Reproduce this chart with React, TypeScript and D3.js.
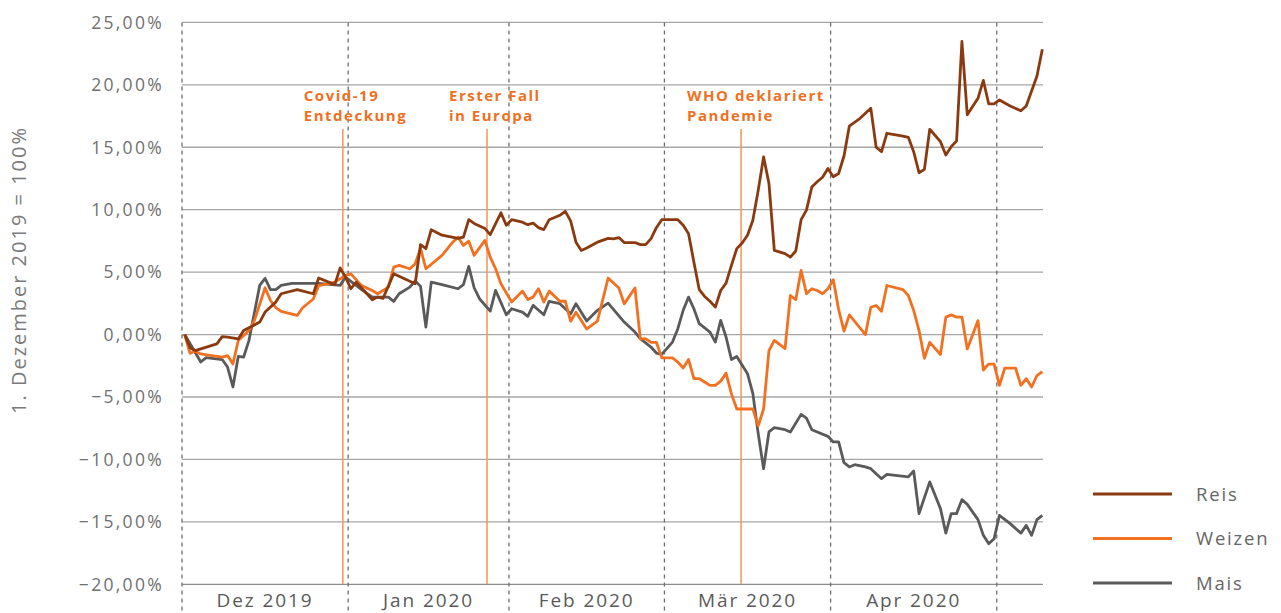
import React from "react";
import * as d3 from "d3";

// ---------- data ----------
// x = trading-day index (category axis), value = change vs. 1 Dec 2019 in %
const monthLabels = ["Dez 2019", "Jan 2020", "Feb 2020", "Mär 2020", "Apr 2020"];
const monthStarts = [0, 31, 61, 90, 121, 152];
const yTicks = [25, 20, 15, 10, 5, 0, -5, -10, -15, -20];

const reis: [number, number][] = [
  [0, 0], [1, -1.06], [2, -1.28], [3, -1.15], [6, -0.75], [7, -0.16], [8, -0.21], [10, -0.35], [11, 0.32],
  [14, 1.0], [15, 1.8], [17, 2.6], [18, 3.27], [21, 3.6], [24, 3.27], [25, 4.53], [28, 4.0], [29, 5.34],
  [30, 4.6], [31, 3.67], [32, 4.2], [35, 2.79], [36, 3.0], [37, 2.9], [39, 4.87], [41, 4.47], [43, 4.07],
  [44, 7.2], [45, 6.88], [46, 8.4], [48, 7.96], [51, 7.7], [52, 7.8], [53, 9.2], [54, 8.9], [56, 8.5],
  [57, 8.0], [59, 9.75], [60, 8.76], [61, 9.2], [63, 9.0], [64, 8.8], [65, 8.93], [66, 8.56], [67, 8.4],
  [68, 9.2], [70, 9.55], [71, 9.87], [72, 9.1], [73, 7.4], [74, 6.74], [75, 6.93], [77, 7.4], [79, 7.7],
  [80, 7.66], [81, 7.77], [82, 7.37], [84, 7.37], [85, 7.2], [86, 7.2], [87, 7.68], [88, 8.56], [89, 9.2],
  [92, 9.2], [93, 8.76], [94, 8.08], [95, 5.8], [96, 3.59], [97, 3.05], [98, 2.67], [99, 2.2], [100, 3.53],
  [101, 4.12], [102, 5.54], [103, 6.88], [104, 7.33], [105, 7.96], [106, 9.15], [107, 11.56], [108, 14.23],
  [109, 12.1], [110, 6.74], [112, 6.48], [113, 6.2], [114, 6.69], [115, 9.2], [116, 9.97], [117, 11.82],
  [118, 12.24], [119, 12.6], [120, 13.3], [121, 12.64], [122, 12.9], [123, 14.3], [124, 16.7], [126, 17.32],
  [128, 18.13], [129, 15.0], [130, 14.65], [131, 16.12], [134, 15.9], [135, 15.8], [136, 14.65], [137, 12.96],
  [138, 13.23], [139, 16.44], [141, 15.45], [142, 14.38], [143, 15.05], [144, 15.5], [145, 23.47], [146, 17.6],
  [148, 18.93], [149, 20.35], [150, 18.47], [151, 18.47], [152, 18.79], [154, 18.3], [156, 17.92], [157, 18.3],
  [159, 20.7], [160, 22.85],
];

const weizen: [number, number][] = [
  [0, 0], [1, -1.5], [2, -1.34], [3, -1.55], [5, -1.68], [7, -1.8], [8, -1.68], [9, -2.35], [10, -0.48],
  [12, 0.32], [13, 1.12], [15, 3.75], [16, 2.73], [17, 2.15], [18, 1.85], [21, 1.53], [22, 2.15], [24, 2.85],
  [25, 3.92], [28, 4.2], [30, 4.73], [31, 4.86], [33, 3.92], [35, 3.53], [36, 3.27], [38, 3.8], [39, 5.4],
  [40, 5.54], [42, 5.27], [43, 5.67], [44, 6.9], [45, 5.27], [48, 6.34], [50, 7.4], [51, 7.8], [52, 7.14],
  [53, 7.48], [54, 6.34], [56, 7.54], [57, 6.2], [58, 5.27], [59, 4.07], [61, 2.6], [63, 3.48], [64, 2.81],
  [65, 3.0], [66, 3.67], [67, 2.6], [68, 3.48], [70, 2.67], [71, 2.67], [72, 1.07], [73, 1.79], [75, 0.45],
  [77, 1.07], [79, 4.53], [81, 3.73], [82, 2.46], [84, 3.73], [85, -0.35], [86, -0.35], [87, -0.62],
  [88, -0.62], [89, -1.87], [91, -1.87], [92, -2.2], [93, -2.68], [94, -2.0], [95, -3.53], [96, -3.53],
  [97, -3.8], [98, -4.07], [99, -4.07], [100, -3.73], [101, -3.09], [102, -4.75], [103, -5.96], [106, -5.96],
  [107, -7.3], [108, -5.96], [109, -1.28], [110, -0.47], [112, -1.13], [113, 3.13], [114, 2.79], [115, 5.14],
  [116, 3.27], [117, 3.67], [118, 3.53], [119, 3.27], [120, 3.67], [121, 4.39], [122, 2.0], [123, 0.27],
  [124, 1.58], [127, 0.0], [128, 2.19], [129, 2.33], [130, 1.87], [131, 3.93], [134, 3.6], [135, 3.13],
  [136, 1.93], [137, 0.32], [138, -1.9], [139, -0.62], [141, -1.6], [142, 1.4], [143, 1.58], [144, 1.4],
  [145, 1.4], [146, -1.15], [148, 1.12], [149, -2.84], [150, -2.36], [151, -2.36], [152, -4.07], [153, -2.68],
  [155, -2.68], [156, -4.07], [157, -3.53], [158, -4.2], [159, -3.28], [160, -2.96],
];

const mais: [number, number][] = [
  [0, 0], [3, -2.2], [4, -1.85], [7, -2.0], [8, -2.6], [9, -4.2], [10, -1.75], [11, -1.8], [12, -0.46],
  [14, 3.94], [15, 4.5], [16, 3.6], [17, 3.6], [18, 3.94], [20, 4.1], [25, 4.1], [29, 3.94], [30, 4.6],
  [33, 3.6], [35, 3.0], [38, 3.0], [39, 2.66], [40, 3.27], [42, 3.8], [43, 4.3], [44, 3.86], [45, 0.6],
  [46, 4.2], [48, 4.0], [51, 3.67], [52, 4.0], [53, 5.46], [54, 3.75], [55, 2.87], [57, 1.88], [58, 3.54],
  [60, 1.59], [61, 2.07], [63, 1.8], [64, 1.46], [65, 2.34], [67, 1.59], [68, 2.66], [70, 2.47], [72, 1.67],
  [73, 2.47], [75, 1.08], [77, 1.94], [79, 2.52], [82, 1.0], [84, 0.2], [85, -0.33], [87, -1.0], [88, -1.48],
  [89, -1.59], [91, -0.6], [92, 0.47], [93, 1.94], [94, 3.0], [95, 2.07], [96, 0.87], [98, 0.2], [99, -0.6],
  [100, 1.14], [101, -0.2], [102, -2.0], [103, -1.75], [105, -3.13], [106, -4.73], [107, -7.94], [108, -10.74],
  [109, -7.8], [110, -7.46], [112, -7.62], [113, -7.8], [115, -6.39], [116, -6.7], [117, -7.62], [120, -8.15],
  [121, -8.6], [122, -8.6], [123, -10.26], [124, -10.6], [125, -10.42], [127, -10.6], [128, -10.74],
  [130, -11.54], [131, -11.2], [135, -11.4], [136, -10.93], [137, -14.34], [139, -11.8], [141, -13.94],
  [142, -15.9], [143, -14.34], [144, -14.34], [145, -13.22], [146, -13.6], [148, -14.82], [149, -16.08],
  [150, -16.75], [151, -16.35], [152, -14.48], [154, -15.14], [156, -15.9], [157, -15.28], [158, -16.08],
  [159, -14.82], [160, -14.48],
];

const eventLabels = [["Covid-19", "Entdeckung"], ["Erster Fall", "in Europa"], ["WHO deklariert", "Pandemie"]];
const eventAt = [29.5, 56.4, 103.8];

const seriesNames = ["Reis", "Weizen", "Mais"];

// ---------- style / layout ----------
const W = 1281;
const H = 613;
const colors = { Reis: "#8B3A10", Weizen: "#F37021", Mais: "#5A5A5A" } as Record<string, string>;
const eventLabelDx = [-39, -38, -54];
const FONT = "'Open Sans', 'Noto Sans', sans-serif";

export default function App() {
  const x = d3.scaleLinear().domain([-0.5, 160.5]).range([182, 1045]);
  const y = d3.scaleLinear().domain([-20, 25]).range([584.3, 22.4]);
  const line = d3
    .line<[number, number]>()
    .x((d) => x(d[0]))
    .y((d) => y(d[1]));

  const dataBy: Record<string, [number, number][]> = { Reis: reis, Weizen: weizen, Mais: mais };
  const drawOrder = ["Mais", "Weizen", "Reis"];

  return (
    <svg
      width={W}
      height={H}
      style={{ position: "absolute", left: 0, top: 0, display: "block", background: "#fff" }}
      fontFamily={FONT}
    >
      {/* horizontal gridlines */}
      {yTicks.map((t) => (
        <line
          key={"g" + t}
          x1={182}
          x2={1043}
          y1={y(t)}
          y2={y(t)}
          stroke={t === -20 ? "#8c8c8c" : "#a6a6a6"}
          strokeWidth={1.3}
        />
      ))}
      {/* y tick labels */}
      {yTicks.map((t) => (
        <text
          key={"yl" + t}
          x={164}
          y={y(t)}
          dy="0.36em"
          textAnchor="end"
          fontSize={17.5}
          letterSpacing={2.3}
          fill="#707070"
        >
          {d3.format(".2f")(t).replace(".", ",") + "%"}
        </text>
      ))}
      {/* month boundaries (dashed) */}
      {monthStarts.map((b, i) => (
        <line
          key={"m" + i}
          x1={x(b - 0.5)}
          x2={x(b - 0.5)}
          y1={y(25)}
          y2={611}
          stroke="#6e6e6e"
          strokeWidth={1.3}
          strokeDasharray="4 4"
        />
      ))}
      {/* month labels */}
      {monthLabels.map((m, i) => (
        <text
          key={"ml" + i}
          x={(x(monthStarts[i] - 0.5) + x(monthStarts[i + 1] - 0.5)) / 2}
          y={607}
          textAnchor="middle"
          fontSize={19}
          letterSpacing={1.9}
          fill="#5a5a5a"
        >
          {m}
        </text>
      ))}
      {/* y axis title */}
      <text
        transform={`translate(26,270) rotate(-90)`}
        textAnchor="middle"
        fontSize={20}
        letterSpacing={2}
        fill="#7a7a7a"
      >
        1. Dezember 2019 = 100%
      </text>
      {/* event lines */}
      {eventAt.map((e, i) => (
        <line key={"e" + i} x1={x(e)} x2={x(e)} y1={129} y2={584} stroke="#F39B62" strokeWidth={1.6} />
      ))}
      {eventLabels.map((lab, i) =>
        lab.map((l, j) => (
          <text
            key={"el" + i + "-" + j}
            x={x(eventAt[i]) + eventLabelDx[i]}
            y={101 + j * 19.8}
            fontSize={15}
            letterSpacing={1.5}
            fontWeight={700}
            fill="#F07022"
          >
            {l}
          </text>
        ))
      )}
      {/* series */}
      {drawOrder.map((s) => (
        <path
          key={s}
          d={line(dataBy[s]) || ""}
          fill="none"
          stroke={colors[s]}
          strokeWidth={2.8}
          strokeLinejoin="round"
        />
      ))}
      {/* legend */}
      {seriesNames.map((s, i) => (
        <g key={"lg" + s} transform={`translate(0,${494 + i * 44.5})`}>
          <line x1={1093} x2={1172} y1={0} y2={0} stroke={colors[s]} strokeWidth={2.8} />
          <text x={1196} y={0} dy="0.36em" fontSize={18.5} letterSpacing={1.8} fill="#666">
            {s}
          </text>
        </g>
      ))}
    </svg>
  );
}
